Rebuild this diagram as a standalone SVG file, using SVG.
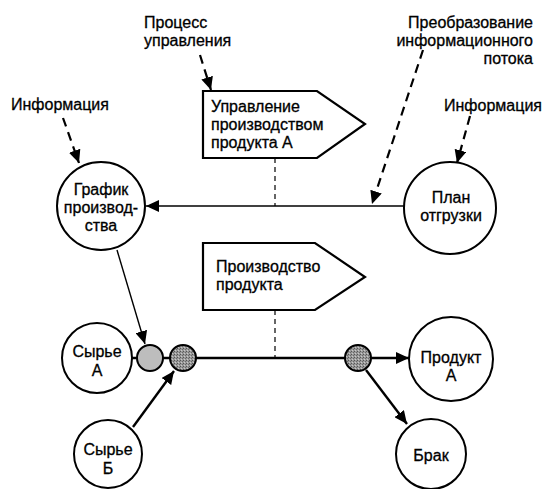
<svg xmlns="http://www.w3.org/2000/svg" width="544" height="489" viewBox="0 0 544 489">
  <defs>
    <marker id="head" markerUnits="userSpaceOnUse" markerWidth="14" markerHeight="12" refX="13" refY="6" orient="auto">
      <path d="M0,0 L13,6 L0,12 Z" fill="#000"/>
    </marker>
    <pattern id="grain" width="3" height="3" patternUnits="userSpaceOnUse">
      <rect width="3" height="3" fill="#9a9a9a"/>
      <rect width="1" height="1" fill="#555"/>
      <rect x="2" y="1" width="1" height="1" fill="#6a6a6a"/>
      <rect x="1" y="2" width="1" height="1" fill="#c8c8c8"/>
    </pattern>
    <style>
      text { font-family: "Liberation Sans", Arial, sans-serif; font-size: 16px; fill: #000; stroke: #000; stroke-width: 0.3; }
      .c { text-anchor: middle; }
      .r { text-anchor: end; }
      .node { fill: #fff; stroke: #000; stroke-width: 2; }
      .flag { fill: #fff; stroke: #000; stroke-width: 2.2; stroke-linejoin: miter; }
      .dot { stroke: #000; stroke-width: 2; }
      .info { fill: none; stroke: #000; stroke-width: 2.2; stroke-dasharray: 9 6; marker-end: url(#head); }
      .tie { fill: none; stroke: #000; stroke-width: 1.2; stroke-dasharray: 5 4; }
      .thin { fill: none; stroke: #000; stroke-width: 1.4; }
      .bold { fill: none; stroke: #000; stroke-width: 2.4; }
      .arr { marker-end: url(#head); }
    </style>
  </defs>

  <!-- connectors -->
  <g id="connectors">
    <!-- information inputs -->
    <line class="info" x1="63" y1="118" x2="79" y2="163"/>
    <line class="info" x1="200" y1="55" x2="211" y2="90"/>
    <line class="info" x1="470" y1="116" x2="457" y2="163"/>
    <line class="info" x1="423" y1="50" x2="372" y2="204"/>
    <!-- control ties from the process flags -->
    <line class="tie" x1="275" y1="158" x2="275" y2="206"/>
    <line class="tie" x1="275" y1="310" x2="275" y2="358"/>
    <!-- shipping plan to production schedule -->
    <line class="thin arr" x1="404" y1="206" x2="146" y2="206"/>
    <!-- schedule to raw material A junction -->
    <line class="thin arr" x1="117" y1="250" x2="145" y2="344"/>
    <!-- material flow -->
    <line class="bold" x1="132" y1="358" x2="345" y2="358"/>
    <line class="bold arr" x1="371" y1="358" x2="409" y2="358"/>
    <line class="bold arr" x1="133" y1="427" x2="174" y2="371"/>
    <line class="bold arr" x1="366" y1="370" x2="407" y2="424"/>
  </g>

  <!-- free labels -->
  <g id="labels">
    <text x="11" y="110">Информация</text>
    <text x="144" y="28">Процесс</text>
    <text x="144" y="46">управления</text>
    <text class="r" x="533" y="28">Преобразование</text>
    <text class="r" x="533" y="46">информационного</text>
    <text class="r" x="533" y="64">потока</text>
    <text class="r" x="542" y="111">Информация</text>
  </g>

  <g id="control-flag">
    <polygon class="flag" points="203,91 317,91 365,124 317,158 203,158"/>
    <text x="211" y="112">Управление</text>
    <text x="211" y="130">производством</text>
    <text x="211" y="148">продукта А</text>
  </g>

  <g id="production-flag">
    <polygon class="flag" points="203,243 315,243 365,277 315,310 203,310" stroke-width="3"/>
    <text x="216" y="272">Производство</text>
    <text x="216" y="290">продукта</text>
  </g>

  <g id="schedule">
    <circle class="node" cx="101" cy="206" r="44"/>
    <text class="c" x="101" y="195">График</text>
    <text class="c" x="101" y="213">производ-</text>
    <text class="c" x="101" y="231">ства</text>
  </g>

  <g id="shipping-plan">
    <circle class="node" cx="450" cy="208" r="46"/>
    <text class="c" x="451" y="203">План</text>
    <text class="c" x="451" y="221">отгрузки</text>
  </g>

  <g id="raw-a">
    <circle class="node" cx="97" cy="358" r="35"/>
    <text class="c" x="97" y="357">Сырье</text>
    <text class="c" x="97" y="376">А</text>
  </g>

  <g id="raw-b">
    <circle class="node" cx="108" cy="454" r="34"/>
    <text class="c" x="108" y="455">Сырье</text>
    <text class="c" x="108" y="474">Б</text>
  </g>

  <g id="junction-a">
    <circle class="dot" cx="150" cy="358" r="13" fill="#bdbdbd"/>
  </g>
  <g id="junction-b">
    <circle class="dot" cx="183" cy="358" r="13" fill="url(#grain)"/>
  </g>
  <g id="junction-out">
    <circle class="dot" cx="358" cy="358" r="13" fill="url(#grain)"/>
  </g>

  <g id="product-a">
    <circle class="node" cx="451" cy="359" r="42"/>
    <text class="c" x="451" y="363">Продукт</text>
    <text class="c" x="451" y="381">А</text>
  </g>

  <g id="reject">
    <circle class="node" cx="431" cy="454" r="35"/>
    <text class="c" x="431" y="461">Брак</text>
  </g>
</svg>
